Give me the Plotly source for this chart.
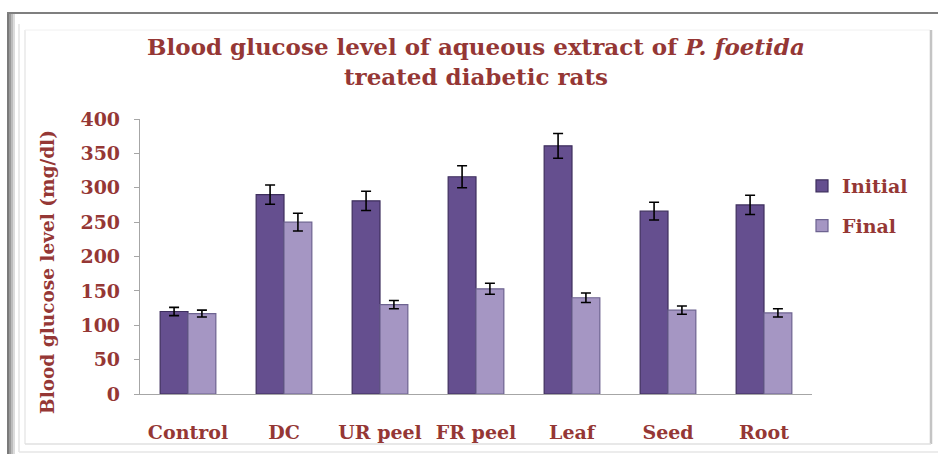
import plotly.graph_objects as go

categories = ["Control", "DC", "UR peel", "FR peel", "Leaf", "Seed", "Root"]
initial = [120, 290, 281, 316, 361, 266, 275]
initial_err = [6, 14, 14, 16, 18, 13, 14]
final = [117, 250, 130, 153, 140, 122, 118]
final_err = [5, 13, 6, 8, 7, 6, 6]
y_ticks = [0, 50, 100, 150, 200, 250, 300, 350, 400]

W, H = 938, 454
L, R, T, B = 140, 812, 119, 394  # plot area in pixels

TXT = "#953735"
SERIF = "DejaVu Serif"


def px(x):
    return (x - L) / (R - L)


def py(y):
    return (B - y) / (B - T)


fig = go.Figure()
fig.add_trace(go.Bar(
    name="Initial", x=categories, y=initial, legendgroup="a",
    marker=dict(color="#654f8f", line=dict(color="#3e2f5e", width=1.2)),
    error_y=dict(type="data", array=initial_err, color="black", thickness=1.6, width=5),
))
fig.add_trace(go.Bar(
    name="Final", x=categories, y=final, legendgroup="b",
    marker=dict(color="#a596c3", line=dict(color="#6d6390", width=1.2)),
    error_y=dict(type="data", array=final_err, color="black", thickness=1.6, width=5),
))

shapes = []
# outer frame
shapes.append(dict(type="line", xref="paper", yref="paper", x0=px(7), x1=px(938), y0=py(13), y1=py(13),
                   line=dict(color="#7f7f7f", width=2)))
for x0, x1, c in [(7, 9, "#7a7a7a"), (9, 11, "#9a9a9a"), (11, 13, "#bdbdbd"), (13, 15, "#dcdcdc")]:
    shapes.append(dict(type="rect", xref="paper", yref="paper", x0=px(x0), x1=px(x1), y0=py(454), y1=py(13),
                       fillcolor=c, line=dict(width=0), layer="below"))
# inner panel
shapes.append(dict(type="line", xref="paper", yref="paper", x0=px(19), x1=px(19), y0=py(452), y1=py(24),
                   line=dict(color="#e3e3e3", width=1.5)))
shapes.append(dict(type="line", xref="paper", yref="paper", x0=px(25), x1=px(25), y0=py(444), y1=py(30),
                   line=dict(color="#e8e8e8", width=1.5)))
shapes.append(dict(type="line", xref="paper", yref="paper", x0=px(25), x1=px(930), y0=py(30), y1=py(30),
                   line=dict(color="#f0f0f0", width=1)))
shapes.append(dict(type="line", xref="paper", yref="paper", x0=px(931), x1=px(931), y0=py(444), y1=py(30),
                   line=dict(color="#c4c4c4", width=2.5)))
shapes.append(dict(type="line", xref="paper", yref="paper", x0=px(25), x1=px(931), y0=py(444), y1=py(444),
                   line=dict(color="#e0e0e0", width=1.5)))
shapes.append(dict(type="line", xref="paper", yref="paper", x0=px(19), x1=px(938), y0=py(452), y1=py(452),
                   line=dict(color="#e6e6e6", width=1.5)))

fig.update_layout(
    width=W, height=H,
    margin=dict(l=L, r=W - R, t=T, b=H - B, pad=0),
    paper_bgcolor="white", plot_bgcolor="white",
    barmode="group", bargap=0.42, bargroupgap=0,
    title=dict(
        text="Blood glucose level of aqueous extract of <i>P. foetida</i><br>treated diabetic rats",
        x=px(481), xanchor="center", y=1 - 55 / H, yanchor="middle",
        font=dict(family=SERIF, size=23, color=TXT, weight="bold"),
    ),
    xaxis=dict(
        showline=True, linecolor="#a6a6a6", linewidth=1.2, ticks="", showgrid=False,
        tickfont=dict(family=SERIF, size=19, color=TXT, weight="bold"),
        ticklabelstandoff=21,
    ),
    yaxis=dict(
        range=[0, 400], tickvals=y_ticks, showgrid=False, zeroline=False,
        showline=True, linecolor="#a6a6a6", linewidth=1.2,
        ticks="outside", ticklen=5, tickcolor="#a6a6a6",
        tickfont=dict(family=SERIF, size=19, color=TXT, weight="bold"),
        ticklabelstandoff=10,
    ),
    annotations=[dict(
        text="Blood glucose level (mg/dl)", textangle=-90,
        xref="paper", yref="paper", x=px(47), y=py(272), xanchor="center", yanchor="middle",
        showarrow=False, font=dict(family=SERIF, size=18.5, color=TXT, weight="bold"),
    )],
    legend=dict(
        x=px(802), xanchor="left", y=py(167), yanchor="top",
        font=dict(family=SERIF, size=19, color=TXT, weight="bold"),
        tracegroupgap=12, bgcolor="rgba(0,0,0,0)",
    ),
    shapes=shapes,
    showlegend=True,
)

fig.write_html("out.html", config={"displayModeBar": False},
               post_script="document.body.style.margin='0';document.body.style.overflow='hidden';")
